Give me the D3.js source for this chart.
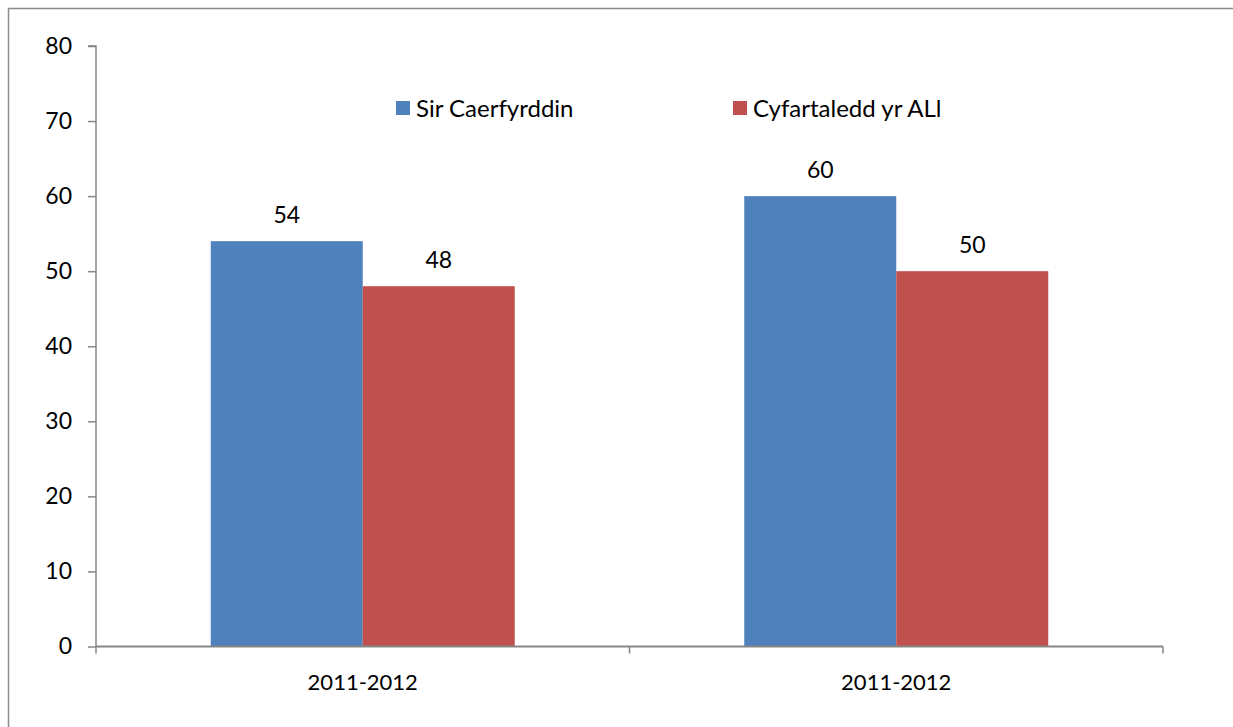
<!DOCTYPE html>
<html>
<head>
<meta charset="utf-8">
<script src="https://cdn.jsdelivr.net/npm/d3@7"></script>
<style>
  body { margin: 0; background: #fff; }
  svg { display: block; }
  text { font-family: Lato, "Open Sans", sans-serif; fill: #000; }
</style>
</head>
<body>
<svg></svg>
<script>
const width = 1233;
const height = 727;

// data
const categories = ["2011-2012", "2011-2012"];
const seriesNames = ["Sir Caerfyrddin", "Cyfartaledd yr ALl"];
const seriesColors = ["#4F81BD", "#C0504D"];
const sirValues = [54, 60];
const allValues = [48, 50];
const yTicks = [0, 10, 20, 30, 40, 50, 60, 70, 80];

const margin = { top: 46, right: 70, bottom: 80, left: 96 };
const svg = d3.select("svg").attr("width", width).attr("height", height);

// outer frame (only top and left visible in the picture)
svg.append("path")
  .attr("d", `M8.5,${height} V8.5 H${width}`)
  .attr("fill", "none")
  .attr("stroke", "#8c8c8c")
  .attr("stroke-width", 1.5);

const x0 = d3.scaleBand()
  .domain(d3.range(categories.length))
  .range([margin.left, width - margin.right])
  .padding(0);

const x1 = d3.scaleBand()
  .domain(d3.range(seriesNames.length))
  .range([0, x0.bandwidth()])
  .paddingInner(0)
  .paddingOuter(0.755);

const y = d3.scaleLinear()
  .domain([0, 80])
  .range([height - margin.bottom - 0.5, margin.top]);

const g = svg.append("g");

// bars
const rows = categories.map((c, i) => ({ i, values: [sirValues[i], allValues[i]] }));
const groups = g.selectAll("g.grp")
  .data(rows)
  .enter()
  .append("g")
  .attr("class", "grp")
  .attr("transform", (d) => `translate(${x0(d.i)},0)`);

groups.selectAll("rect")
  .data((d) => d.values.map((v, s) => ({ v, s })))
  .enter()
  .append("rect")
  .attr("x", (d) => x1(d.s))
  .attr("y", (d) => y(d.v))
  .attr("width", x1.bandwidth())
  .attr("height", (d) => y(0) - y(d.v))
  .attr("fill", (d) => seriesColors[d.s]);

// value labels
groups.selectAll("text.val")
  .data((d) => d.values.map((v, s) => ({ v, s })))
  .enter()
  .append("text")
  .attr("class", "val")
  .attr("x", (d) => x1(d.s) + x1.bandwidth() / 2)
  .attr("y", (d) => y(d.v) - 18)
  .attr("text-anchor", "middle")
  .style("font-size", "23px")
  .text((d) => d.v);

// y axis
const yAxis = g.append("g")
  .attr("transform", `translate(${margin.left},0)`)
  .call(d3.axisLeft(y).tickValues(yTicks).tickSize(8).tickPadding(16));
yAxis.selectAll("path, line").attr("stroke", "#868686").attr("stroke-width", 1.5);
yAxis.select(".domain").attr("d", `M-8,${y(80)}H0V${y(0)}`);
yAxis.selectAll("text").style("font-size", "23px").style("font-family", "Lato, sans-serif").attr("fill", "#000");

// x axis
const xAxis = g.append("g")
  .attr("transform", `translate(0,${y(0)})`);
xAxis.append("line")
  .attr("x1", margin.left).attr("x2", width - margin.right)
  .attr("stroke", "#868686").attr("stroke-width", 2);
const xBounds = d3.range(categories.length + 1).map((i) =>
  i < categories.length ? x0(i) : x0(i - 1) + x0.bandwidth());
xAxis.selectAll("line.tk")
  .data(xBounds)
  .enter()
  .append("line")
  .attr("class", "tk")
  .attr("x1", (d) => d).attr("x2", (d) => d)
  .attr("y1", 0).attr("y2", 7)
  .attr("stroke", "#868686").attr("stroke-width", 1.5);
xAxis.selectAll("text")
  .data(categories)
  .enter()
  .append("text")
  .attr("x", (d, i) => x0(i) + x0.bandwidth() / 2)
  .attr("y", 43)
  .attr("text-anchor", "middle")
  .style("font-size", "22px")
  .text((d) => d);

// legend
const legendX = [396, 733];
const legend = svg.selectAll("g.leg")
  .data(seriesNames)
  .enter()
  .append("g")
  .attr("class", "leg")
  .attr("transform", (d, i) => `translate(${legendX[i]},101)`);
legend.append("rect")
  .attr("width", 14).attr("height", 14)
  .attr("fill", (d, i) => seriesColors[i]);
legend.append("text")
  .attr("x", 20).attr("y", 16)
  .style("font-size", "24px")
  .text((d) => d);
</script>
</body>
</html>
